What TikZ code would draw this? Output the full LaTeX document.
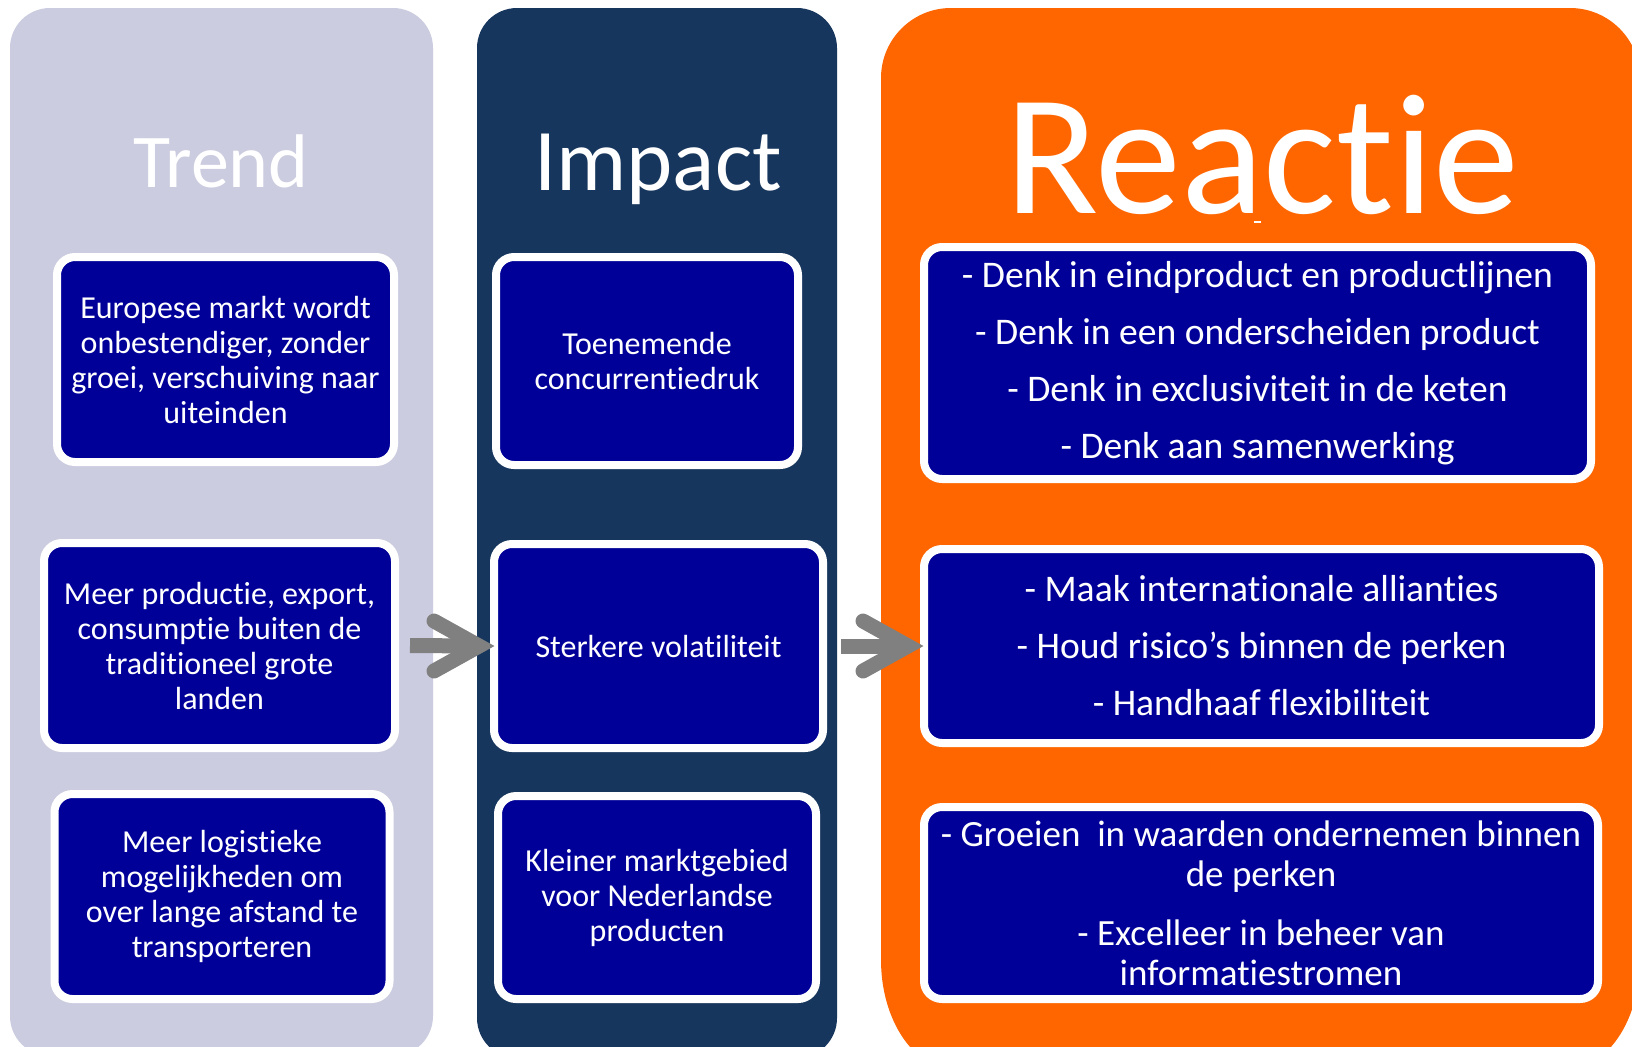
\documentclass[tikz,border=0pt]{standalone}
\usepackage{fontspec}
\setmainfont{Carlito}[Ligatures={NoCommon,NoRequired,NoContextual}]
\usetikzlibrary{calc}
\definecolor{trendbg}{HTML}{CBCCDF}
\definecolor{impactbg}{HTML}{17365D}
\definecolor{reactbg}{HTML}{FF6600}
\definecolor{boxblue}{HTML}{000099}
\definecolor{arrowgray}{HTML}{808080}
\begin{document}
\begin{tikzpicture}[x=0.5pt,y=-0.5pt,
  card/.style={draw=white, line width=4pt, fill=boxblue, rounded corners=9pt, inner sep=0pt, text=white, align=center, font=\fontsize{16pt}{17.5pt}\selectfont},
  rcard/.style={card, font=\fontsize{18.8pt}{28.5pt}\selectfont},
  title/.style={text=white, anchor=base, inner sep=0pt},
  shaft/.style={draw=arrowgray, line width=7.5pt, line cap=butt},
  chevron/.style={draw=arrowgray, line width=7.5pt, line cap=round, line join=miter, miter limit=10}]
\useasboundingbox (0,0) rectangle (1632,1046);
\clip (0,0) rectangle (1632,1046);
\fill[white] (0,0) rectangle (1632,1046);
% panels
\fill[trendbg, rounded corners=20pt] (10,8) rectangle (433,1056);
\fill[impactbg, rounded corners=20pt] (477,8) rectangle (837,1058);
\fill[reactbg] (881,78) .. controls (881,39.3) and (912.3,8) .. (951,8)
  -- (1570,8) .. controls (1608.7,8) and (1640,39.3) .. (1640,78)
  -- (1640,960) .. controls (1640,1020.75) and (1606.4,1070) .. (1565,1070)
  -- (956,1070) .. controls (914.6,1070) and (881,1020.75) .. (881,960) -- cycle;
% titles
\node[title, font=\fontsize{38pt}{40pt}\selectfont] (ttrend) at (221,187) {Trend};
\node[title, font=\fontsize{44pt}{46pt}\selectfont] (timpact) at (658,190) {Impact};
\node[title, font=\fontsize{86pt}{90pt}\selectfont] (treact) at (1262,213) {Reactie};
\fill[white] (1254,221) rectangle (1261,223);
% trend boxes
\node[card, minimum width=168.5pt, minimum height=102.5pt] (T1) at (225.5,359.5) {Europese markt wordt\\onbestendiger, zonder\\groei, verschuiving naar\\uiteinden};
\node[card, minimum width=175.5pt, minimum height=102.5pt] (T2) at (219.5,645.5) {Meer productie, export,\\consumptie buiten de\\traditioneel grote\\landen};
\node[card, minimum width=167.5pt, minimum height=102.5pt] (T3) at (222,896.5) {Meer logistieke\\mogelijkheden om\\over lange afstand te\\transporteren};
% impact boxes
\node[card, minimum width=151pt, minimum height=104pt] (I1) at (647,361) {Toenemende\\concurrentiedruk};
\node[card, minimum width=164.5pt, minimum height=102pt] (I2) at (658.5,646) {Sterkere volatiliteit};
\node[card, minimum width=159pt, minimum height=101.5pt] (I3) at (657,897.5) {Kleiner marktgebied\\voor Nederlandse\\producten};
% reactie boxes
\node[rcard, minimum width=333.5pt, minimum height=116pt] (R1) at (1257.5,363) {- Denk in eindproduct en productlijnen\\- Denk in een onderscheiden product\\- Denk in exclusiviteit in de keten\\- Denk aan samenwerking};
\node[rcard, minimum width=337.5pt, minimum height=97pt] (R2) at (1261.5,646) {- Maak internationale allianties\\- Houd risico’s binnen de perken\\- Handhaaf flexibiliteit};
\node[rcard, minimum width=337pt, minimum height=96pt, font=\fontsize{18.5pt}{20pt}\selectfont] (R3) at (1261,903) {- Groeien\ \ in waarden ondernemen binnen\\de perken\\[9.5pt]- Excelleer in beheer van\\informatiestromen};
% arrows
\draw[shaft] ($(T2.east)+(11,0)$) -- ($(I2.west)+(-11,0)$);
\draw[chevron] ($(I2.west)+(-56,-25)$) -- ($(I2.west)+(-11,0)$) -- ($(I2.west)+(-56,25)$);
\draw[shaft] ($(I2.east)+(14,0)$) -- ($(R2.west)+(-12,0)$);
\draw[chevron] ($(R2.west)+(-57,-25)$) -- ($(R2.west)+(-12,0)$) -- ($(R2.west)+(-57,25)$);
\end{tikzpicture}
\end{document}
